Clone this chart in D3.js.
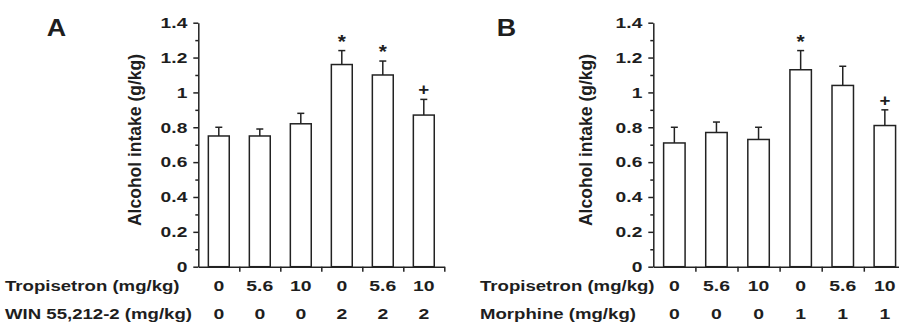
<!DOCTYPE html>
<html>
<head>
<meta charset="utf-8">
<script src="https://cdn.jsdelivr.net/npm/d3@7"></script>
<style>
  body { margin: 0; background: #fff; }
  svg { display: block; }
  text { font-family: "Liberation Sans", Arial, sans-serif; font-weight: bold; fill: #1e1e1e; }
</style>
</head>
<body>
<div id="chart"></div>
<script>
// doses shown under each bar
const tropisetron = ['0', '5.6', '10', '0', '5.6', '10'];
const winDose = ['0', '0', '0', '2', '2', '2'];
const morphineDose = ['0', '0', '0', '1', '1', '1'];

// panel A: WIN 55,212-2
const meanA = [0.75, 0.75, 0.82, 1.16, 1.10, 0.87];
const semA = [0.05, 0.04, 0.06, 0.08, 0.08, 0.09];
const marksA = ['', '', '', '*', '*', '+'];

// panel B: morphine
const meanB = [0.71, 0.77, 0.73, 1.13, 1.04, 0.81];
const semB = [0.09, 0.06, 0.07, 0.11, 0.11, 0.09];
const marksB = ['', '', '', '*', '', '+'];

const yTicks = [0, 0.2, 0.4, 0.6, 0.8, 1, 1.2, 1.4];
const yMinor = [0.1, 0.3, 0.5, 0.7, 0.9, 1.1, 1.3];

const ink = '#222';
const svg = d3.select('#chart').append('svg')
    .attr('width', 899)
    .attr('height', 327);

// horizontally widened text, like the printed figure
const wideText = (sel, x, y, str, size, sx, anchor) =>
  sel.append('text')
    .attr('transform', `translate(${x},${y}) scale(${sx},1)`)
    .attr('text-anchor', anchor || 'start')
    .style('font-size', size + 'px')
    .text(str);

function drawPanel(opts) {
  const top = 22.7, bottom = 266.7;
  const n = opts.means.length;
  const y = d3.scaleLinear().domain([0, 1.4]).range([bottom, top]);
  const x = d3.scaleBand().domain(d3.range(n)).range([opts.left, opts.right])
              .paddingInner(0.49).paddingOuter(0.245);
  const edge = d3.scaleLinear().domain([0, n]).range([opts.left, opts.right]);
  const g = svg.append('g');

  // bars
  g.selectAll('rect')
    .data(opts.means)
    .join('rect')
      .attr('x', (d, i) => x(i))
      .attr('y', d => y(d))
      .attr('width', x.bandwidth())
      .attr('height', d => y(0) - y(d))
      .attr('fill', '#fff')
      .attr('stroke', ink)
      .attr('stroke-width', 1.5);

  // upper error bars
  opts.means.forEach((m, i) => {
    const cx = x(i) + x.bandwidth() / 2;
    const yt = y(m + opts.sems[i]);
    g.append('line').attr('x1', cx).attr('x2', cx).attr('y1', y(m)).attr('y2', yt)
      .attr('stroke', ink).attr('stroke-width', 1.5);
    g.append('line').attr('x1', cx - 3.5).attr('x2', cx + 3.5).attr('y1', yt).attr('y2', yt)
      .attr('stroke', ink).attr('stroke-width', 1.5);
    if (opts.marks[i] === '*') wideText(g, cx, yt - 3, '*', 19, 1.1, 'middle');
    else if (opts.marks[i]) wideText(g, cx, yt - 4, opts.marks[i], 17, 1.1, 'middle');
  });

  // y axis
  const gy = g.append('g')
      .attr('transform', `translate(${opts.left},0)`)
      .call(d3.axisLeft(y).tickValues(yTicks).tickSize(5).tickSizeOuter(0)
              .tickFormat(d3.format('~g')));
  gy.selectAll('.tick text')
      .attr('x', null)
      .attr('transform', 'translate(-11,0) scale(1.28,1)')
      .style('font-size', '15px');
  g.append('g')
      .attr('transform', `translate(${opts.left},0)`)
      .call(d3.axisLeft(y).tickValues(yMinor).tickSize(3).tickFormat(''))
      .select('.domain').remove();

  // x axis, ticks at band edges
  g.append('g')
      .attr('transform', `translate(0,${bottom})`)
      .call(d3.axisBottom(edge).tickValues(d3.range(1, n + 1)).tickSize(5)
              .tickSizeOuter(0).tickFormat(''));

  g.selectAll('.domain, .tick line').attr('stroke', ink).attr('stroke-width', 1.5);

  // y title
  g.append('text')
    .attr('transform', `translate(${opts.titleX},140) rotate(-90)`)
    .attr('text-anchor', 'middle')
    .style('font-size', '17.5px')
    .text('Alcohol intake (g/kg)');

  // panel letter
  wideText(g, opts.letterX, 36, opts.letter, 24, 1.12);

  // dose rows
  wideText(g, opts.rowX, 291, 'Tropisetron (mg/kg)', 15.5, 1.2);
  wideText(g, opts.rowX, 319, opts.secondLabel, 15.5, 1.2);
  tropisetron.forEach((t, i) =>
    wideText(g, x(i) + x.bandwidth() / 2, 291, t, 15.5, 1.25, 'middle'));
  opts.secondDose.forEach((t, i) =>
    wideText(g, x(i) + x.bandwidth() / 2, 319, t, 15.5, 1.25, 'middle'));
}

drawPanel({
  means: meanA, sems: semA, marks: marksA,
  secondLabel: 'WIN 55,212-2 (mg/kg)', secondDose: winDose,
  left: 198.3, right: 444.3, titleX: 141, letter: 'A', letterX: 46.7, rowX: 5
});

drawPanel({
  means: meanB, sems: semB, marks: marksB,
  secondLabel: 'Morphine (mg/kg)', secondDose: morphineDose,
  left: 653.3, right: 905.9, titleX: 592, letter: 'B', letterX: 496.7, rowX: 480
});
</script>
</body>
</html>
